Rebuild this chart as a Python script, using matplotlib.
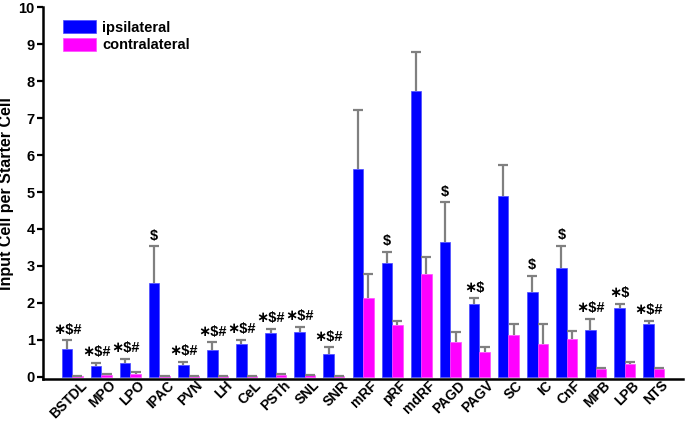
"""Input cells per starter cell, ipsilateral vs contralateral, by region."""

import matplotlib

matplotlib.use("Agg")
import matplotlib.pyplot as plt
import numpy as np

plt.rcParams["font.family"] = ["Liberation Sans", "DejaVu Sans"]
plt.rcParams["font.weight"] = "bold"

regions = ["BSTDL", "MPO", "LPO", "IPAC", "PVN", "LH", "CeL", "PSTh", "SNL", "SNR",
           "mRF", "pRF", "mdRF", "PAGD", "PAGV", "SC", "IC", "CnF", "MPB", "LPB", "NTS"]

ipsi_mean = [0.74, 0.29, 0.37, 2.53, 0.33, 0.72, 0.90, 1.19, 1.21, 0.63,
             5.62, 3.07, 7.74, 3.66, 1.97, 4.90, 2.29, 2.94, 1.27, 1.86, 1.42]
ipsi_err = [0.25, 0.08, 0.12, 1.00, 0.07, 0.21, 0.10, 0.10, 0.14, 0.17,
            1.60, 0.32, 1.05, 1.06, 0.15, 0.84, 0.44, 0.61, 0.29, 0.12, 0.10]

contra_mean = [0.02, 0.06, 0.09, 0.01, 0.01, 0.01, 0.01, 0.06, 0.05, 0.02,
               2.14, 1.41, 2.78, 0.93, 0.68, 1.14, 0.89, 1.03, 0.22, 0.36, 0.20]
contra_err = [0.01, 0.01, 0.03, 0.00, 0.00, 0.00, 0.00, 0.01, 0.01, 0.00,
              0.64, 0.09, 0.46, 0.27, 0.14, 0.28, 0.54, 0.21, 0.02, 0.04, 0.04]

# "*" drawn as the centred asterisk operator, like the star-ish glyph in the original
significance = ["∗$#", "∗$#", "∗$#", "$", "∗$#", "∗$#", "∗$#", "∗$#", "∗$#", "∗$#",
                "", "$", "", "$", "∗$", "", "$", "$", "∗$#", "∗$", "∗$#"]


def _upper_errbars(ax, xpos, mean, err, color="#808080"):
    # only the upper whisker + cap, nothing drawn at the bar top
    mean = np.asarray(mean)
    top = mean + np.asarray(err)
    ax.vlines(xpos, mean, top, color=color, linewidth=1.6, zorder=3)
    ax.plot(xpos, top, linestyle="none", marker="_", markersize=7,
            markeredgewidth=1.6, color=color, zorder=3)


def main() -> None:
    fig = plt.figure(figsize=(6.85, 4.24), dpi=100)
    ax = fig.add_axes([0.063, 0.106, 0.934, 0.877])

    x = np.arange(len(regions))
    width = 0.36

    ax.bar(x - width / 2, ipsi_mean, width, color="#0000ff", edgecolor="#4a4aff",
           linewidth=0.5, label="ipsilateral", zorder=2)
    ax.bar(x + width / 2, contra_mean, width, color="#ff00ff", edgecolor="#ff4aff",
           linewidth=0.5, label="contralateral", zorder=2)
    _upper_errbars(ax, x - width / 2, ipsi_mean, ipsi_err)
    _upper_errbars(ax, x + width / 2, contra_mean, contra_err)

    for i, mark in enumerate(significance):
        if mark:
            ax.text(x[i] - width / 2, ipsi_mean[i] + ipsi_err[i] + 0.1, mark,
                    ha="center", va="bottom", fontsize=10.5, fontweight="bold")

    ax.set_xlim(-1.0, 21.0)
    ax.set_ylim(-0.06, 10)
    ax.set_yticks(range(0, 11))
    ax.set_xticks(x + 0.42)
    ax.set_xticklabels(regions, rotation=45, ha="right", va="center",
                       rotation_mode="anchor", fontsize=10, fontweight="bold")
    ax.tick_params(axis="x", length=0, pad=3)
    ax.tick_params(axis="y", direction="out", length=4, width=1.6, labelsize=10.5, pad=2)
    for lab in ax.get_yticklabels():
        lab.set_fontweight("bold")

    ax.set_ylabel("Input Cell per Starter Cell", fontsize=11.5, fontweight="bold", labelpad=3)

    for side in ("top", "right"):
        ax.spines[side].set_visible(False)
    ax.spines["left"].set_linewidth(1.8)
    ax.spines["bottom"].set_linewidth(1.8)

    ax.legend(loc="upper left", bbox_to_anchor=(0.01, 1.0), frameon=False,
              handlelength=2.3, handleheight=1.0, handletextpad=0.4,
              labelspacing=0.2, prop={"size": 10.5, "weight": "bold"})

    fig.savefig("out.png", dpi=100)
    plt.close(fig)


if __name__ == "__main__":
    main()
